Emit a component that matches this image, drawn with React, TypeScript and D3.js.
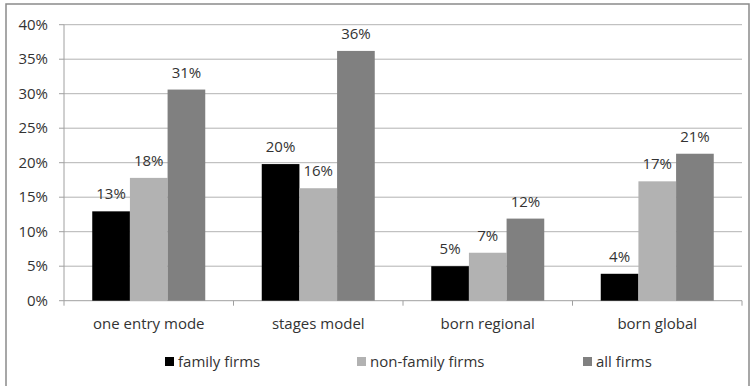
import React from "react";
import * as d3 from "d3";

const categories = ["one entry mode", "stages model", "born regional", "born global"];
const seriesNames = ["family firms", "non-family firms", "all firms"];
const familyFirms = [12.95, 19.8, 5.0, 3.9];
const nonFamilyFirms = [17.8, 16.3, 6.95, 17.3];
const allFirms = [30.6, 36.2, 11.9, 21.3];
const familyLabels = ["13%", "20%", "5%", "4%"];
const nonFamilyLabels = ["18%", "16%", "7%", "17%"];
const allLabels = ["31%", "36%", "12%", "21%"];
const yTicks = [0, 5, 10, 15, 20, 25, 30, 35, 40];
const colors = ["#000000", "#b2b2b2", "#808080"];

const W = 751;
const H = 386;
const left = 64;
const right = 742;
const top = 24.7;
const bottom = 300.7;
const font = "'Open Sans', 'Noto Sans', sans-serif";
const textColor = "#333333";
const fs = 15;

export default function App() {
  const series = [familyFirms, nonFamilyFirms, allFirms];
  const labels = [familyLabels, nonFamilyLabels, allLabels];
  const x0 = d3.scaleBand<string>().domain(categories).range([left, right]).paddingInner(0).paddingOuter(0);
  const bw = x0.bandwidth() / 4.5;
  const y = d3.scaleLinear().domain([0, 40]).range([bottom, top]);
  const legendX = [165, 357, 583];

  return (
    <svg width={W} height={H} style={{ position: "absolute", left: 0, top: 0, background: "#fff" }}>
      <rect x={0} y={0} width={W} height={H} fill="#fff" />
      <rect x={6} y={4} width={743} height={H + 10} fill="none" stroke="#8a8a8a" strokeWidth={1.5} />
      {yTicks.map((t) => (
        <g key={t}>
          {t > 0 && <line x1={left} x2={right} y1={y(t)} y2={y(t)} stroke="#b3b3b3" strokeWidth={1} />}
          <line x1={left - 5} x2={left} y1={y(t)} y2={y(t)} stroke="#a0a0a0" strokeWidth={1} />
          <text x={48} y={y(t)} dy="0.35em" textAnchor="end" fontFamily={font} fontSize={fs} fill={textColor}>
            {t}%
          </text>
        </g>
      ))}
      <line x1={left} x2={left} y1={top} y2={bottom} stroke="#a0a0a0" strokeWidth={1} />
      <line x1={left} x2={right} y1={bottom} y2={bottom} stroke="#a0a0a0" strokeWidth={1} />
      {[...categories.map((c) => x0(c)!), right].map((xv, i) => (
        <line key={i} x1={xv} x2={xv} y1={bottom} y2={bottom + 5} stroke="#a0a0a0" strokeWidth={1} />
      ))}
      {categories.map((c, ci) => {
        const gx = x0(c)! + 0.75 * bw;
        return (
          <g key={c}>
            {series.map((s, si) => (
              <g key={si}>
                <rect x={gx + si * bw} y={y(s[ci])} width={bw} height={bottom - y(s[ci])} fill={colors[si]} />
                <text x={gx + si * bw + bw / 2} y={y(s[ci]) - 12} textAnchor="middle" fontFamily={font} fontSize={fs} fill={textColor}>
                  {labels[si][ci]}
                </text>
              </g>
            ))}
            <text x={x0(c)! + x0.bandwidth() / 2} y={324} dy="0.35em" textAnchor="middle" fontFamily={font} fontSize={fs} fill={textColor}>
              {c}
            </text>
          </g>
        );
      })}
      {seriesNames.map((n, i) => (
        <g key={n}>
          <rect x={legendX[i]} y={357} width={9} height={9} fill={colors[i]} />
          <text x={legendX[i] + 13} y={362} dy="0.35em" fontFamily={font} fontSize={fs} fill={textColor}>
            {n}
          </text>
        </g>
      ))}
    </svg>
  );
}
